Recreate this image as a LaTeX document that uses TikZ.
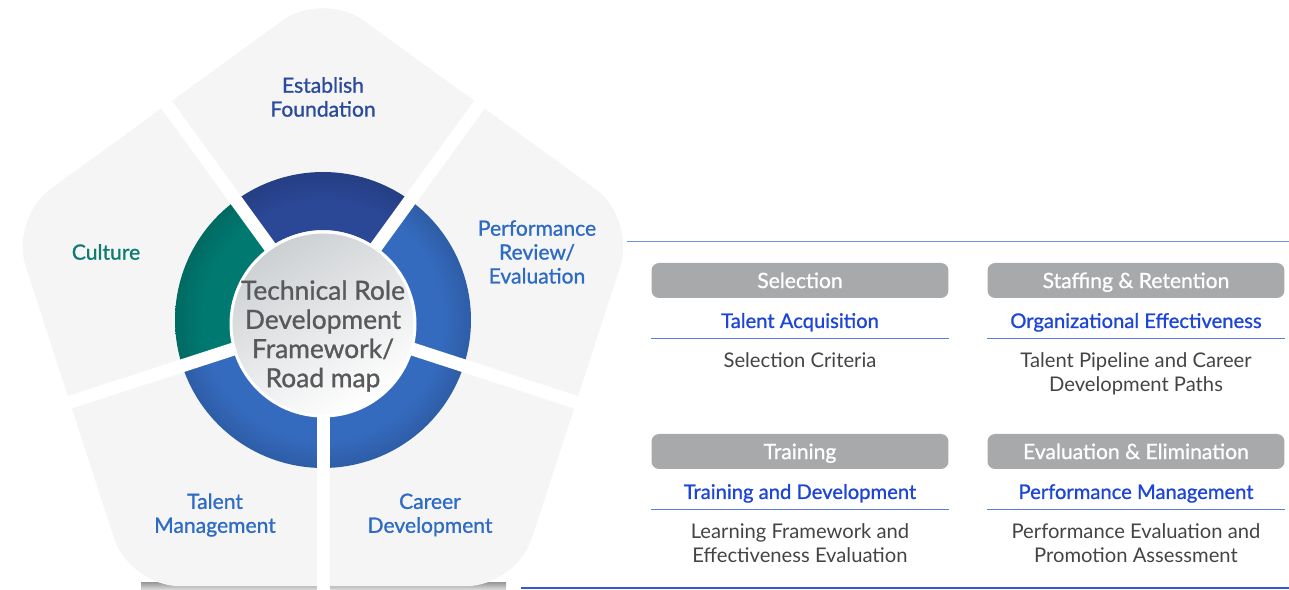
\documentclass[tikz,border=0pt]{standalone}
\usepackage{fontspec}
\setmainfont{Lato}
\newfontfamily\medfont{Lato}[FakeBold=1]
\usetikzlibrary{positioning, calc}

\definecolor{pentgrey}{HTML}{F5F5F5}
\definecolor{ringnavy}{HTML}{2B4897}
\definecolor{ringteal}{HTML}{007A71}
\definecolor{ringblue}{HTML}{356BBF}
\definecolor{coregrey}{HTML}{CDD0D3}
\definecolor{coretext}{HTML}{58595B}
\definecolor{estblue}{HTML}{2A4A9B}
\definecolor{cultteal}{HTML}{0E7B70}
\definecolor{petalblue}{HTML}{2D6BC5}
\definecolor{headgrey}{HTML}{A8A9AB}
\definecolor{titleblue}{HTML}{1E46D6}
\definecolor{ruleblue}{HTML}{5B7BE0}
\definecolor{desctext}{HTML}{444444}

% ring shadings, a bit darker at the outer rim
\foreach \col in {ringnavy, ringteal, ringblue}{
	\pgfdeclareradialshading{\col-sh}{\pgfpoint{0bp}{0bp}}{color(0bp)=(\col); color(20bp)=(\col); color(25bp)=(\col!87!black); color(50bp)=(\col!87!black)}
}

\begin{document}
\begin{tikzpicture}[x=0.02cm, y=-0.02cm,
	gap/.style={white, line width=0.26cm},
	petal/.style={font=\medfont\fontsize{12}{13.6}\selectfont, align=center},
	core/.style={font=\medfont\fontsize{15}{16.6}\selectfont, align=center, text=coretext},
	header/.style={fill=headgrey, rounded corners=0.15cm, minimum width=5.94cm,
		minimum height=0.7cm, inner sep=0pt, text height=8.6pt, text depth=0pt,
		text=white, font=\medfont\fontsize{12}{13}\selectfont},
	cardtitle/.style={minimum width=5.94cm, minimum height=0.68cm, inner sep=0pt,
		text height=8.3pt, text depth=0pt,
		text=titleblue, font=\medfont\fontsize{11.5}{13}\selectfont},
	desc/.style={align=center, text=desctext, inner sep=0pt,
		font=\fontsize{11.5}{13.6}\selectfont},
	rule/.style={draw=ruleblue, line width=0.6pt}]

	\useasboundingbox (0,0) rectangle (1289,590);

	% shadow under the pentagon
	\shade[top color=gray!75, bottom color=gray!25] (141,583) rectangle (506,590);

	\begin{scope}[shift={(323,320)}, yscale=-1]
		\fill[pentgrey, rounded corners=1cm] (90:329) -- (162:329) -- (234:329) -- (306:329) -- (18:329) -- cycle;
		\foreach \a/\b/\col in {54/126/ringnavy, 126/198/ringteal, 198/270/ringblue, 270/342/ringblue, 342/414/ringblue}{
			\begin{scope}
				\clip (\a:90) arc (\a:\b:90) -- (\b:148) arc (\b:\a:148) -- cycle;
				\shade[shading=\col-sh] (0,0) circle (148);
			\end{scope}
		}
		\foreach \a in {54,126,198,270,342}
			\draw[gap] (\a:80) -- (\a:380);
	\end{scope}
	\shade[top color=coregrey, bottom color=white, shading angle=30] (323,324) circle (91);
	\draw[white, line width=0.06cm] (323,324) circle (92);

	\node[core] (core) at (323,336) {Technical Role\\Development\\Framework/\\Road map};
	\node[petal, text=estblue] (est) at (323,97) {Establish\\Foundation};
	\node[petal, text=cultteal] (cult) at (106,252) {Culture};
	\node[petal, text=petalblue] (perf) at (537,252) {Performance\\Review/\\Evaluation};
	\node[petal, text=petalblue] (tal) at (215,515) {Talent\\Management};
	\node[petal, text=petalblue] (car) at (430,515) {Career\\Development};

	% cards on the right
	\draw[ruleblue!85, line width=0.8pt] (627,241.5) -- (1289,241.5);
	\draw[titleblue!90, line width=1.1pt] (521,588) -- (1289,588);
	\foreach \nm/\cx/\cy/\hd/\ti/\de in {
		sel/800/280.5/Selection/Talent Acquisition/Selection Criteria,
		staff/1136/280.5/{Staffing \& Retention}/Organizational Effectiveness/{Talent Pipeline and Career\\Development Paths},
		train/800/451.5/Training/Training and Development/{Learning Framework and\\Effectiveness Evaluation},
		elim/1136/451.5/{Evaluation \& Elimination}/Performance Management/{Performance Evaluation and\\Promotion Assessment}}{
		\node[header] (\nm-hd) at (\cx,\cy) {\hd};
		\node[cardtitle, below=0.1cm of \nm-hd] (\nm-ti) {\ti};
		\draw[rule] (\nm-ti.south west) -- (\nm-ti.south east);
		\node[desc, anchor=north, below=0.28cm of \nm-ti] (\nm-de) {\de};
	}
\end{tikzpicture}
\end{document}
